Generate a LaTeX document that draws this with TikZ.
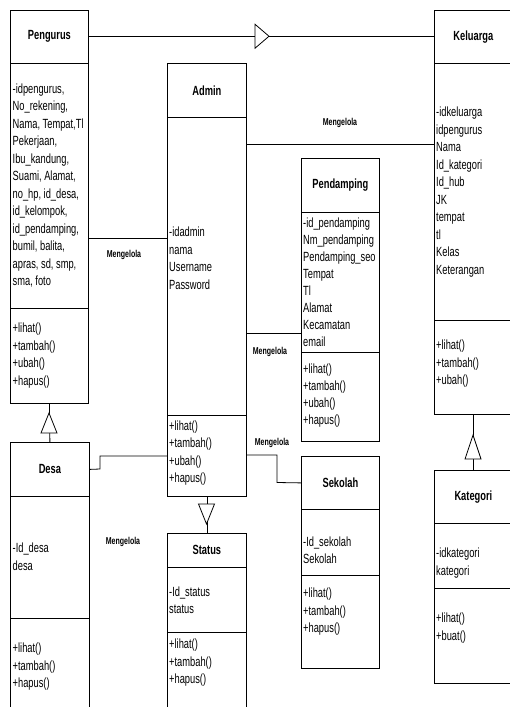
\documentclass[tikz,border=0pt]{standalone}
\usepackage{fontspec}
\setmainfont{Liberation Sans}[FakeStretch=0.70]
\begin{document}
\begin{tikzpicture}[x=1pt,y=-1pt,
  sec/.style={draw, line width=0.8pt, inner sep=0pt, anchor=north west},
  ttl/.style={font=\fontsize{13.3}{16}\selectfont\bfseries, inner sep=0pt},
  txt/.style={font=\fontsize{13.3}{17.5}\selectfont, align=left, inner sep=0pt, anchor=west},
  lbl/.style={font=\fontsize{10}{12}\selectfont\bfseries, inner sep=0pt},
  conn/.style={line width=0.8pt},
  gen/.style={line width=0.8pt, fill=white}]
\newcommand\usec[5]{\node[sec, minimum width={(#4-#2)*1pt}, minimum height={(#5-#3)*1pt}] (#1) at (#2,#3) {};}
\useasboundingbox (0,0) rectangle (509,707);
% Pengurus
\usec{peng-h}{10}{9.5}{88}{63}
\usec{peng-a}{10}{63}{88}{308}
\usec{peng-m}{10}{308}{88}{403}
\node[ttl] (peng-t) at (peng-h) {Pengurus};
\node[txt] (peng-at) at (12.5,185.5) {-idpengurus,\\No\_rekening,\\Nama, Tempat,Tl\\Pekerjaan,\\Ibu\_kandung,\\Suami, Alamat,\\no\_hp, id\_desa,\\id\_kelompok,\\id\_pendamping,\\bumil, balita,\\apras, sd, smp,\\sma, foto};
\node[txt] (peng-mt) at (12.5,355.5) {+lihat()\\+tambah()\\+ubah()\\+hapus()};
% Admin
\usec{adm-h}{167}{63}{246}{117}
\usec{adm-a}{167}{117}{246}{415}
\usec{adm-m}{167}{415}{246}{496}
\node[ttl] (adm-t) at (adm-h) {Admin};
\node[txt] (adm-at) at (169,258) {-idadmin\\nama\\Username\\Password};
\node[txt] (adm-mt) at (169,453) {+lihat()\\+tambah()\\+ubah()\\+hapus()};
% Keluarga
\usec{kel-h}{434}{9.5}{512}{63}
\usec{kel-a}{434}{63}{512}{320}
\usec{kel-m}{434}{320}{512}{414}
\node[ttl] (kel-t) at (kel-h) {Keluarga};
\node[txt] (kel-at) at (436,192) {-idkeluarga\\idpengurus\\Nama\\Id\_kategori\\Id\_hub\\JK\\tempat\\tl\\Kelas\\Keterangan};
\node[txt] (kel-mt) at (436,364) {+lihat()\\+tambah()\\+ubah()};
% Pendamping
\usec{pen-h}{301}{158}{379}{212}
\usec{pen-a}{301}{212}{379}{352}
\usec{pen-m}{301}{352}{379}{441}
\node[ttl] (pen-t) at (pen-h) {Pendamping};
\node[txt, font=\fontsize{13.3}{17}\selectfont] (pen-at) at (303,282) {-id\_pendamping\\Nm\_pendamping\\Pendamping\_seo\\Tempat\\Tl\\Alamat\\Kecamatan\\email};
\node[txt, font=\fontsize{13.3}{17}\selectfont] (pen-mt) at (303,396) {+lihat()\\+tambah()\\+ubah()\\+hapus()};
% Sekolah
\usec{sek-h}{301}{456}{379}{509}
\usec{sek-a}{301}{509}{379}{575}
\usec{sek-m}{301}{575}{379}{668}
\node[ttl] (sek-t) at (sek-h) {Sekolah};
\node[txt] (sek-at) at (303,550) {-Id\_sekolah\\Sekolah};
\node[txt] (sek-mt) at (303,612) {+lihat()\\+tambah()\\+hapus()};
% Kategori
\usec{kat-h}{434}{470}{512}{523}
\usec{kat-a}{434}{523}{512}{588}
\usec{kat-m}{434}{588}{512}{683}
\node[ttl] (kat-t) at (kat-h) {Kategori};
\node[txt] (kat-at) at (436,563) {-idkategori\\kategori};
\node[txt] (kat-mt) at (436,628) {+lihat()\\+buat()};
% Desa
\usec{desa-h}{10}{442}{89}{496}
\usec{desa-a}{10}{496}{89}{618}
\usec{desa-m}{10}{618}{89}{716}
\node[ttl] (desa-t) at (desa-h) {Desa};
\node[txt] (desa-at) at (12.5,556.5) {-Id\_desa\\desa};
\node[txt] (desa-mt) at (12.5,667) {+lihat()\\+tambah()\\+hapus()};
% Status
\usec{stat-h}{167}{533}{246}{567}
\usec{stat-a}{167}{567}{246}{632}
\usec{stat-m}{167}{632}{246}{716}
\node[ttl] (stat-t) at (stat-h) {Status};
\node[txt] (stat-at) at (169,600) {-Id\_status\\status};
\node[txt] (stat-mt) at (169,663) {+lihat()\\+tambah()\\+hapus()};
% connectors
\coordinate (y144) at (0,144);
\coordinate (y238) at (0,238);
\coordinate (y333) at (0,333);
\coordinate (y455) at (0,455);
\coordinate (k1) at (277,455);
\coordinate (k2) at (277,482.5);
\coordinate (d1) at (100,469);
\coordinate (d2) at (100,456);
\draw[conn] (peng-h.east) -- (kel-h.west);
\draw[conn] (peng-m.south) -- (desa-h.north);
\draw[conn] (adm-m.south) -- (stat-h.north);
\draw[conn] (kel-m.south) -- (kat-h.north);
\draw[conn] (adm-a.east |- y144) -- (kel-a.west |- y144);
\draw[conn] (peng-a.east |- y238) -- (adm-a.west |- y238);
\draw[conn] (adm-a.east |- y333) -- (pen-a.west |- y333);
\draw[conn] (adm-m.east |- y455) -- (k1) -- (k2) -- (sek-h.west);
\draw[conn] (desa-h.east) -- (d1) -- (d2) -- (adm-m.west |- d2);
% generalisation triangles
\coordinate (t1) at (255,36.25);
\coordinate (t2) at (49,413);
\coordinate (t3) at (206.5,524);
\coordinate (t4) at (473,435);
\filldraw[gen] (t1) ++(0,-12) -- ++(14,12) -- ++(-14,12) -- cycle;
\filldraw[gen] (t2) -- ++(8,20) -- ++(-16,0) -- cycle;
\filldraw[gen] (t3) -- ++(8,-20) -- ++(-16,0) -- cycle;
\filldraw[gen] (t4) -- ++(8,24) -- ++(-16,0) -- cycle;
% labels
\node[lbl] (l1) at (340,123) {Mengelola};
\node[lbl] (l2) at (124,255) {Mengelola};
\node[lbl] (l3) at (270,352) {Mengelola};
\node[lbl] (l4) at (272,443) {Mengelola};
\node[lbl] (l5) at (123,542) {Mengelola};
\end{tikzpicture}
\end{document}
